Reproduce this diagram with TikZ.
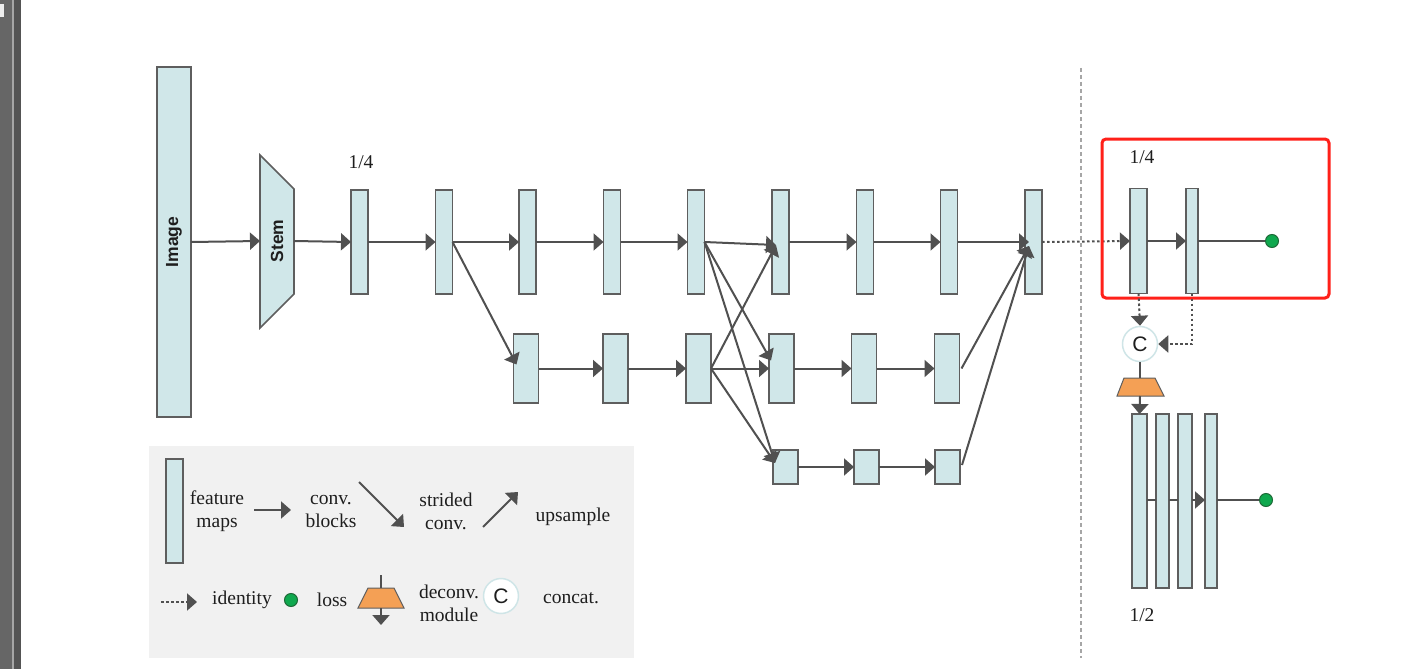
\documentclass[tikz,border=0pt]{standalone}
\usepackage{fontspec}
\setmainfont{Liberation Serif}
\newfontfamily\arialfont{Liberation Sans}
\usetikzlibrary{arrows.meta}
\definecolor{fmfill}{HTML}{D0E7E9}
\definecolor{fmdraw}{HTML}{5E5E5E}
\definecolor{arrc}{HTML}{505050}
\definecolor{lossg}{HTML}{0FA84E}
\definecolor{lossd}{HTML}{1E6A38}
\definecolor{deco}{HTML}{F4A055}
\definecolor{legbg}{HTML}{F1F1F1}
\definecolor{redbox}{HTML}{FF2019}
\definecolor{circd}{HTML}{CFE5E7}
\definecolor{txtc}{HTML}{1E1E1E}
\tikzset{
  fm/.style={draw=fmdraw, fill=fmfill, line width=1.6pt, inner sep=0pt, outer sep=0pt},
  arr/.style={draw=arrc, line width=2pt, -{Triangle[length=10pt,width=17pt]}},
  ln/.style={draw=arrc, line width=2pt},
  dotarr/.style={draw=arrc, line width=2pt, dash pattern=on 2.5pt off 2.5pt, -{Triangle[length=10pt,width=17pt]}},
  lossdot/.style={circle, fill=lossg, draw=lossd, line width=1pt, minimum size=13pt, inner sep=0pt},
  catnode/.style={circle, fill=white, draw=circd, line width=1.5pt, minimum size=35pt, inner sep=0pt, font=\arialfont\fontsize{21}{24}\selectfont, text=txtc},
  lbl/.style={font=\fontsize{19.5}{23}\selectfont, text=txtc, align=center, inner sep=0pt},
  sanslbl/.style={font=\arialfont\bfseries\fontsize{17.5}{20}\selectfont, text=txtc, rotate=90, inner sep=0pt},
}
\begin{document}
\begin{tikzpicture}[x=1pt,y=-1pt]
\useasboundingbox (0,0) rectangle (1425,669);
\fill[white] (0,0) rectangle (1425,669);
% left screen strip
\fill[black!60] (0,0) rectangle (12,669);
\fill[black!35] (12,0) rectangle (13.5,669);
\fill[black!67] (13.5,0) rectangle (21,669);
\fill[black!7] (0,4) rectangle (4,17);

% dashed separator
\draw[black!35, line width=1.5pt, dash pattern=on 4pt off 3pt] (1081,68) -- (1081,658);

% image and stem
\node[fm, minimum width=34pt, minimum height=350pt] (Img) at (174,242) {};
\node[sanslbl] at (Img) {Image};
\draw[fm] (260,155) -- (294,189) -- (294,294) -- (260,328) -- cycle;
\coordinate (StemW) at (260,241);
\coordinate (StemE) at (294,241);
\node[sanslbl] at (277,241) {Stem};

% top row
\foreach \n/\x in {1/359.5,2/444,3/527.5,4/612,5/696,6/780.5,7/865,8/949,9/1033.5}
  \node[fm, minimum width=17pt, minimum height=104pt] (T\n) at (\x,242) {};
% middle row
\foreach \n/\x in {1/526,2/615.5,3/698.5,4/781.5,5/864,6/947}
  \node[fm, minimum width=25pt, minimum height=69pt] (M\n) at (\x,368.5) {};
% bottom row
\foreach \n/\x in {1/785.5,2/866.5,3/947.5}
  \node[fm, minimum width=25pt, minimum height=34pt] (B\n) at (\x,467) {};

\node[lbl] (q1) at (361,162) {1/4};

\draw[arr] (Img.east) -- (StemW);
\draw[arr] (StemE) -- (T1.west);
\draw[arr] (T1.east) -- (T2.west);
\draw[arr] (T2.east) -- (T3.west);
\draw[arr] (T3.east) -- (T4.west);
\draw[arr] (T4.east) -- (T5.west);
\draw[arr] (T6.east) -- (T7.west);
\draw[arr] (T7.east) -- (T8.west);
% strided conv T2 -> M1
\draw[arr] (T2.east) -- ([xshift=3pt,yshift=4pt]M1.west);
\draw[arr] (M1.east) -- (M2.west);
\draw[arr] (M2.east) -- (M3.west);
% exchange between T5/M3 and T6/M4/B1
\coordinate (u6) at ([xshift=4pt,yshift=-3pt]T6.west);
\coordinate (d4) at ([xshift=2pt,yshift=8pt]M4.west);
\coordinate (d1) at ([xshift=2pt,yshift=4pt]B1.west);
\draw[arr] (T5.east) -- (u6);
\draw[arr] (M3.east) -- (u6);
\draw[arr] (T5.east) -- (d4);
\draw[arr] (M3.east) -- (M4.west);
\draw[arr] (T5.east) -- (d1);
\draw[arr] (M3.east) -- (d1);
\draw[arr] (M4.east) -- (M5.west);
\draw[arr] (M5.east) -- (M6.west);
\draw[arr] (B1.east) -- (B2.west);
\draw[arr] (B2.east) -- (B3.west);
% fuse into T9
\coordinate (u9) at ([xshift=4pt,yshift=-4pt]T9.west);
\draw[arr] ([xshift=2pt]M6.east) -- (u9);
\draw[arr] ([xshift=2pt,yshift=2pt]B3.east) -- (u9);
\draw[arr] (T8.east) -- ([xshift=4pt]T9.west);

% right part
\node[fm, minimum width=17pt, minimum height=105pt] (R1) at (1138.5,241) {};
\node[fm, minimum width=12pt, minimum height=105pt] (R2) at (1192,241) {};
\node[lbl] (q2) at (1142,157) {1/4};
\node[lossdot] (L1) at (1272,241) {};
\draw[dotarr] (T9.east) -- (R1.west);
\draw[arr] (R1.east) -- (R2.west);
\draw[ln] (R2.east) -- (L1.west);
\draw[redbox, line width=3pt, rounded corners=4pt] (1102,139) rectangle (1329,298);

\node[catnode] (C) at (1140,344) {C};
\draw[dotarr] (R1.south) -- (C.north);
\draw[dotarr] (R2.south) -- (R2.south |- C.east) -- (C.east);
\draw[fill=deco, draw=fmdraw, line width=1pt] (1124,378) -- (1155,378) -- (1164,396) -- (1117,396) -- cycle;
\coordinate (dtop) at (1140,378);
\coordinate (dbot) at (1140,396);
\draw[ln] (C.south) -- (dtop);

\node[fm, minimum width=15pt, minimum height=174pt] (D1) at (1139.5,501) {};
\node[fm, minimum width=13pt, minimum height=174pt] (D2) at (1162.5,501) {};
\node[fm, minimum width=14pt, minimum height=174pt] (D3) at (1185,501) {};
\node[fm, minimum width=12pt, minimum height=174pt] (D4) at (1211,501) {};
\node[lossdot] (L2) at (1266,500) {};
\draw[arr] (dbot) -- (D1.north);
\draw[ln] ([yshift=1pt]D1.east) -- ([yshift=1pt]D2.west);
\draw[ln] ([yshift=1pt]D2.east) -- ([yshift=1pt]D3.west);
\draw[arr] ([yshift=1pt]D3.east) -- ([yshift=1pt]D4.west);
\draw[ln] ([yshift=1pt]D4.east) -- (L2.west);
\node[lbl] (h2) at (1142,615) {1/2};

% legend
\fill[legbg] (149,446) rectangle (634,658);
\node[fm, minimum width=17pt, minimum height=104pt] (lfm) at (174.5,511) {};
\node[lbl] (tfm) at (217,511) {feature\\maps};
\coordinate (la1) at (254,510); \coordinate (la2) at (291,510);
\draw[arr] (la1) -- (la2);
\node[lbl] (tcb) at (331,511) {conv.\\blocks};
\coordinate (ls1) at (359,482); \coordinate (ls2) at (404,527);
\draw[arr] (ls1) -- (ls2);
\node[lbl] (tsc) at (446,511) {strided\\conv.};
\coordinate (lu1) at (483,527); \coordinate (lu2) at (518,492);
\draw[arr] (lu1) -- (lu2);
\node[lbl] (tup) at (573,517) {upsample};
\coordinate (li1) at (161,602); \coordinate (li2) at (197,602);
\draw[dotarr] (li1) -- (li2);
\node[lbl] (tid) at (242,600) {identity};
\node[lossdot] (ldot) at (291,600) {};
\node[lbl] (tlo) at (332,600) {loss};
\draw[fill=deco, draw=fmdraw, line width=1pt] (368,588) -- (394,588) -- (404,608) -- (358,608) -- cycle;
\coordinate (lt0) at (381,575); \coordinate (lt1) at (381,588);
\coordinate (lb0) at (381,608); \coordinate (lb1) at (381,625);
\draw[ln] (lt0) -- (lt1);
\draw[arr] (lb0) -- (lb1);
\node[lbl] (tdm) at (449,603) {deconv.\\module};
\node[catnode] (lC) at (501,596) {C};
\node[lbl] (tcc) at (571,598) {concat.};
\end{tikzpicture}
\end{document}
